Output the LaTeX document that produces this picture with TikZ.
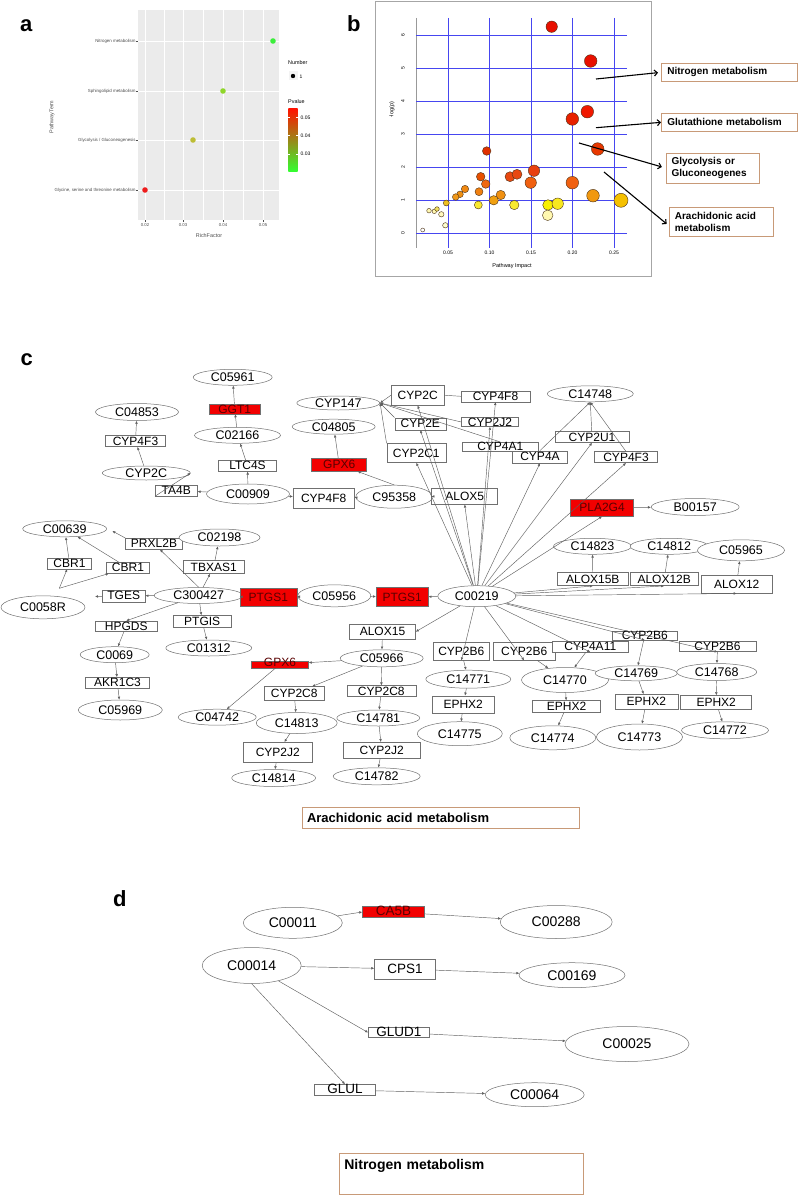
\documentclass[tikz,border=0pt]{standalone}
\usepackage{fontspec}
\setmainfont{Liberation Sans}
\usetikzlibrary{arrows.meta,shapes.geometric,positioning}

\definecolor{edgegray}{HTML}{707070}
\definecolor{genered}{HTML}{F20000}
\definecolor{tanline}{HTML}{C89A78}
\definecolor{gridblue}{HTML}{4646F0}
\definecolor{ggbg}{HTML}{EBEBEB}
\definecolor{ggtext}{HTML}{4D4D4D}

\newcommand{\pxfont}[1]{\fontsize{#1}{#1}\selectfont}

\begin{document}
\begin{tikzpicture}[x=1pt, y=-1pt,
    cpd/.style={ellipse, draw=edgegray, line width=0.5pt, fill=white, inner sep=0pt, font=\pxfont{12.5}},
    gene/.style={rectangle, draw=edgegray, line width=0.5pt, fill=white, inner sep=0pt, font=\pxfont{12}},
    hit/.style={fill=genered, text=red!35!black},
    sz/.style 2 args={minimum width=#1pt, minimum height=#2pt},
    link/.style={draw=edgegray!85!black, line width=0.45pt, -{Latex[length=3pt,width=2.6pt]}},
    tag/.style={draw=tanline, line width=0.7pt, fill=white, anchor=north west, align=left, inner xsep=5pt},
    pointer/.style={draw=black, line width=1.1pt, -{Straight Barb[length=3pt,width=6pt]}},
    panel/.style={font=\bfseries\pxfont{22}, anchor=base west, inner sep=0pt},
    tick/.style={font=\pxfont{4.3}, text=ggtext, inner sep=0.5pt},
  ]
  \useasboundingbox (0,0) rectangle (799,1196);

  % ---- a: enrichment dot plot
  \node (laba) [panel] at (20,32) {a};
  \fill[ggbg] (138.3,10) rectangle (279.3,220);
  \foreach \gx in {164,203.5,243}
    \draw[white, line width=0.3pt] (\gx,10) -- (\gx,220);
  \foreach \gx/\lab [count=\i] in {145/0.02,183/0.03,223/0.04,263/0.05}{
    \draw[white, line width=0.7pt] (\gx,10) -- (\gx,220);
    \draw[ggtext, line width=0.3pt] (\gx,220) -- (\gx,222);
    \node (xa\i) [tick, anchor=north] at (\gx,223) {\lab};
  }
  \foreach \gy/\term [count=\i] in {41/{Nitrogen metabolism},91/{Sphingolipid metabolism},140/{Glycolysis / Gluconeogenesis},190/{Glycine, serine and threonine metabolism}}{
    \draw[white, line width=0.7pt] (138.3,\gy) -- (279.3,\gy);
    \draw[ggtext, line width=0.3pt] (136.3,\gy) -- (138.3,\gy);
    \node (term\i) [tick, font=\pxfont{4.4}, anchor=east] at (136.3,\gy) {\term};
  }
  \foreach \px/\py/\pc in {273/41/3BEE3B,223/91/8FD62A,193/140/BDBD35,145/190/EE1C1C}{
    \definecolor{dotc}{HTML}{\pc}
    \fill[dotc] (\px,\py) circle (2.8);
  }
  \node (richf) [font=\pxfont{5.4}, text=ggtext] at (209,236) {RichFactor};
  \node (pterm) [font=\pxfont{5.4}, text=ggtext, rotate=90] at (52,117) {PathwayTerm};
  \node (numlab) [font=\pxfont{5.4}, anchor=west, inner sep=0pt] at (288,62.7) {Number};
  \fill[ggbg!60] (288.5,71.5) rectangle (297.5,80.5);
  \fill (293,76) circle (2.2);
  \node (numone) [font=\pxfont{5}, anchor=west, inner sep=0pt] at (299.5,76.5) {1};
  \node (pvlab) [font=\pxfont{5.4}, anchor=west, inner sep=0pt] at (288,102) {Pvalue};
  \shade[top color={rgb,255:red,255;green,20;blue,0}, middle color={rgb,255:red,205;green,150;blue,20}, bottom color={rgb,255:red,50;green,255;blue,50}] (288.3,109) rectangle (297.7,171.7);
  \foreach \cy/\cv [count=\i] in {117.3/0.05,135.3/0.04,153.7/0.03}{
    \draw[white, line width=0.3pt] (288.3,\cy) -- (290,\cy) (296,\cy) -- (297.7,\cy);
    \node (pv\i) [font=\pxfont{5}, anchor=west, inner sep=0pt] at (300.5,\cy) {\cv};
  }

  % ---- b: pathway impact bubbles
  \node (labb) [panel] at (347,32) {b};
  \draw[gray!70, line width=0.6pt] (375,1) rectangle (651,276);
  \draw[gray!80, line width=0.4pt] (416,18) -- (416,248);
  \foreach \v in {0,...,6}{
    \draw[gridblue, line width=0.6pt] (416,{233-33*\v}) -- (627,{233-33*\v});
    \node (yb\v) [font=\pxfont{5}, rotate=90, inner sep=0pt] at (403,{233-33*\v}) {\v};
  }
  \foreach \v/\lab [count=\i] in {0.05/0.05,0.10/0.10,0.15/0.15,0.20/0.20,0.25/0.25}{
    \draw[gridblue, line width=0.6pt] ({406.5+830*\v},18) -- ({406.5+830*\v},248);
    \node (xb\i) [font=\pxfont{5}, inner sep=0pt] at ({406.5+830*\v},253) {\lab};
  }
  \node (logp) [font=\pxfont{5.5}, rotate=90] at (392,110) {-log(p)};
  \node (impact) [font=\pxfont{5.5}] at (512,266) {Pathway Impact};
  \foreach \bx/\by/\br/\bc in {
      551.7/26.7/5.7/E81000, 590.7/61/6.3/E81000, 587.3/111.7/6.3/F01800,
      572.3/119/6.3/E82000, 597.7/149/6.3/E83800, 486.7/151/4.3/E03000,
      480.7/176.7/4.3/E85000, 485.7/184/4.3/F06810, 510/176.7/5/E84810,
      517/174.3/5/E84810, 534/170.7/5.7/E84010, 530.7/182.7/5.7/F06010,
      572.3/182.7/6.3/F06010, 465/189/3.7/F08810, 460/194.3/3.3/F09010,
      455.7/197/3.3/F09818, 479/191.7/4/F08010, 500.7/195/4.7/F09010,
      493.7/200.3/4.7/F0A010, 446.3/203/3/F0C020, 593/195.7/6.3/F09810,
      621/200.3/7/F5C000, 478.3/205/4/F8E830, 514.3/205/4.7/F8E830,
      548/205/5.3/F8F000, 557.7/203.7/5.7/F8E820, 547.7/215.3/5.3/FFF8B0,
      429/210.7/2.3/FFF8B0, 434.3/211.3/2.3/FFF8B0, 437/209/2.3/F0E060,
      441.3/214.3/2.7/FFF8C0, 445.3/225.3/2.7/FFFFD0, 422.7/230/2/FFFFFF}{
    \definecolor{bub}{HTML}{\bc}
    \filldraw[fill=bub, draw=black!60!brown, line width=0.4pt] (\bx,\by) circle (\br);
  }
  \node (nbox) [tag, sz={136}{18}, text width=124pt, font=\bfseries\pxfont{10}] at (661,63) {Nitrogen metabolism};
  \node (gbox) [tag, sz={136}{18}, text width=124pt, font=\bfseries\pxfont{10}] at (661,113) {Glutathione metabolism};
  \node (ybox) [tag, sz={93}{30}, text width=82pt, font=\bfseries\fontsize{10}{12.3}\selectfont] at (665.7,152.7) {Glycolysis or\\Gluconeogenes};
  \node (abox) [tag, sz={104}{29}, text width=93pt, font=\bfseries\fontsize{10}{12.3}\selectfont] at (669,207) {Arachidonic acid\\metabolism};
  \coordinate (nfrom) at (596,79);
  \coordinate (gfrom) at (596,127.7);
  \coordinate (yfrom) at (579,143);
  \coordinate (afrom) at (604,172);
  \draw[pointer, shorten >=3pt] (nfrom) -- (nbox.west);
  \draw[pointer] (gfrom) -- (gbox.west);
  \draw[pointer, shorten >=4pt] (yfrom) -- (ybox.west);
  \draw[pointer, shorten >=3pt] (afrom) -- ([yshift=-4pt]abox.west);

  % ---- c: arachidonic acid metabolism network
  \node (labc) [panel] at (20.5,365.5) {c};
  \node (c05961) [cpd, sz={79}{16}] at (232.7,377.3) {C05961};
  \node (ggt1) [gene, hit, sz={51}{10}] at (234.7,409) {GGT1};
  \node (c04853) [cpd, sz={83}{17}] at (137,412) {C04853};
  \node (c02166) [cpd, sz={86}{16}] at (237.5,435.3) {C02166};
  \node (cyp4f3a) [gene, sz={60}{11}] at (135.5,441.2) {CYP4F3};
  \node (ltc4s) [gene, sz={58}{11}] at (247.5,465.8) {LTC4S};
  \node (cyp2ca) [cpd, sz={88}{14}] at (146.3,473) {CYP2C};
  \node (ta4b) [gene, sz={42}{11}] at (176.3,490.5) {TA4B};
  \node (c00909) [cpd, sz={83}{20}] at (248,494) {C00909};
  \node (cyp147) [cpd, sz={83}{14}] at (338.3,403) {CYP147};
  \node (c04805) [cpd, sz={83}{15}] at (333.7,426.7) {C04805};
  \node (gpx6a) [gene, hit, sz={55}{13}] at (339.2,464.7) {GPX6};
  \node (cyp4f8b) [gene, sz={61}{20}] at (323.7,498.3) {CYP4F8};
  \node (c95358) [cpd, sz={77}{23}] at (394.3,496.7) {C95358};
  \node (alox5) [gene, sz={66}{16}] at (464.7,496.2) {ALOX5};
  \node (cyp2cb) [gene, sz={53}{20}] at (417.7,395.2) {CYP2C};
  \node (cyp4f8a) [gene, sz={69}{11}] at (495.5,396.3) {CYP4F8};
  \node (cyp2e) [gene, sz={51}{12}] at (420.3,423.8) {CYP2E};
  \node (cyp2j2a) [gene, sz={57}{9}] at (490,422) {CYP2J2};
  \node (cyp4a1) [gene, sz={76}{9}] at (500.3,446.7) {CYP4A1};
  \node (cyp2c1) [gene, sz={59}{19}] at (416.3,453) {CYP2C1};
  \node (cyp4a) [gene, sz={55}{12}] at (540,456.8) {CYP4A};
  \node (c14748) [cpd, sz={86}{16}] at (590.3,393.8) {C14748};
  \node (cyp2u1) [gene, sz={74}{11}] at (592,437) {CYP2U1};
  \node (cyp4f3b) [gene, sz={63}{11}] at (626,457.2) {CYP4F3};
  \node (pla2g4) [gene, hit, sz={63}{17}] at (602,507.7) {PLA2G4};
  \node (b00157) [cpd, sz={88}{17}] at (695.2,507) {B00157};
  \node (c14823) [cpd, sz={78}{16}] at (592.5,546.3) {C14823};
  \node (c14812) [cpd, sz={78}{16}] at (669.2,546.3) {C14812};
  \node (c05965) [cpd, sz={87}{21}] at (741,550.3) {C05965};
  \node (alox15b) [gene, sz={71}{13}] at (592.8,579.2) {ALOX15B};
  \node (alox12b) [gene, sz={68}{13}] at (664.2,579.2) {ALOX12B};
  \node (alox12) [gene, sz={71}{18}] at (736.7,584.2) {ALOX12};
  \node (c00639) [cpd, sz={84}{16}] at (64.7,528.8) {C00639};
  \node (prxl2b) [gene, sz={57}{11}] at (154,543.7) {PRXL2B};
  \node (c02198) [cpd, sz={81}{17}] at (219.5,537.5) {C02198};
  \node (cbr1a) [gene, sz={44}{11}] at (69.5,563.3) {CBR1};
  \node (cbr1b) [gene, sz={43}{11}] at (128,567.8) {CBR1};
  \node (tbxas1) [gene, sz={61}{13}] at (213.7,567) {TBXAS1};
  \node (c0058r) [cpd, sz={84}{23}] at (43,607.3) {C0058R};
  \node (tges) [gene, sz={43}{12}] at (123.7,595.8) {TGES};
  \node (c300427) [cpd, sz={89}{16}] at (198.7,595.5) {C300427};
  \node (ptgs1a) [gene, hit, sz={57}{18}] at (268.3,597.5) {PTGS1};
  \node (c05956) [cpd, sz={73}{22}] at (334.3,595.8) {C05956};
  \node (ptgs1b) [gene, hit, sz={52}{19}] at (402.2,597) {PTGS1};
  \node (c00219) [cpd, sz={78}{21}] at (476.8,596.2) {C00219};
  \node (hpgds) [gene, sz={62}{10}] at (126.2,626) {HPGDS};
  \node (ptgis) [gene, sz={58}{12}] at (202.2,621.5) {PTGIS};
  \node (c0069) [cpd, sz={69}{16}] at (114.7,654.7) {C0069};
  \node (c01312) [cpd, sz={86}{16}] at (208.8,648) {C01312};
  \node (akr1c3) [gene, sz={64}{11}] at (117.5,682.8) {AKR1C3};
  \node (c05969) [cpd, sz={84}{20}] at (120.3,710) {C05969};
  \node (alox15) [gene, sz={66}{15}] at (382.5,631.7) {ALOX15};
  \node (c05966) [cpd, sz={83}{17}] at (381.7,658.3) {C05966};
  \node (gpx6b) [gene, hit, sz={57}{7}, text height=5pt, text depth=1pt] at (280,664.3) {GPX6};
  \node (cyp2c8a) [gene, sz={60}{14}] at (294.2,693.7) {CYP2C8};
  \node (cyp2c8b) [gene, sz={69}{11}] at (381.3,691.2) {CYP2C8};
  \node (c04742) [cpd, sz={78}{16}] at (217.2,717.2) {C04742};
  \node (c14813) [cpd, sz={81}{21}] at (296.7,723) {C14813};
  \node (c14781) [cpd, sz={83}{16}] at (378.3,718) {C14781};
  \node (cyp2j2b) [gene, sz={69}{20}] at (277.8,752.3) {CYP2J2};
  \node (cyp2j2c) [gene, sz={77}{16}] at (381.7,750.3) {CYP2J2};
  \node (c14814) [cpd, sz={84}{17}] at (273.7,778) {C14814};
  \node (c14782) [cpd, sz={87}{17}] at (376.7,776.3) {C14782};
  \node (cyp2b6a) [gene, sz={56}{18}] at (461.3,651.2) {CYP2B6};
  \node (cyp2b6b) [gene, sz={62}{18}] at (524.2,651.2) {CYP2B6};
  \node (cyp4a11) [gene, sz={76}{11}] at (590.3,646.3) {CYP4A11};
  \node (cyp2b6c) [gene, sz={65}{9}] at (644.8,635.3) {CYP2B6};
  \node (cyp2b6d) [gene, sz={77}{10}] at (717.5,646.7) {CYP2B6};
  \node (c14771) [cpd, sz={85}{18}] at (468.3,679.2) {C14771};
  \node (c14770) [cpd, sz={87}{25}] at (565,680) {C14770};
  \node (c14769) [cpd, sz={82}{15}] at (636.2,673.3) {C14769};
  \node (c14768) [cpd, sz={80}{17}] at (716.7,672) {C14768};
  \node (ephx2a) [gene, sz={62}{17}] at (463.2,704.3) {EPHX2};
  \node (ephx2b) [gene, sz={68}{12}] at (566.5,706.7) {EPHX2};
  \node (ephx2c) [gene, sz={63}{15}] at (646.3,701.8) {EPHX2};
  \node (ephx2d) [gene, sz={71}{14}] at (716.2,702.5) {EPHX2};
  \node (c14775) [cpd, sz={85}{24}] at (459.8,733.7) {C14775};
  \node (c14774) [cpd, sz={86}{24}] at (552.8,737.8) {C14774};
  \node (c14773) [cpd, sz={86}{26}] at (639.5,737) {C14773};
  \node (c14772) [cpd, sz={87}{17}] at (725,730.3) {C14772};
  \coordinate (tgesout) at (95,596.5);
  \coordinate (prxlout) at (112.3,531);
  \coordinate (cbrfork) at (59.3,588.3);

  % upper left branch
  \draw [link] (c02166) -- (ggt1);
  \draw [link] (ggt1) -- (c05961);
  \draw [link] (ltc4s) -- (c02166);
  \draw [link] (c00909) -- (ltc4s);
  \draw [link] (c00909) -- (ta4b);
  \draw [link] (ta4b.south west) -- (cyp2ca.east);
  \draw [link] (cyp2ca) -- (cyp4f3a);
  \draw [link] (cyp4f3a) -- (c04853);
  \draw [link] (c00909) -- (cyp4f8b);
  \draw [link] (c95358) -- (cyp4f8b);
  \draw [link] (c95358.north) -- (gpx6a);
  \draw [link] (gpx6a) -- (c04805);
  \draw [link] (c95358) -- (alox5);
  % CYP cluster into CYP147
  \draw [link] (cyp2cb.west) -- (cyp147.east);
  \draw [link] (cyp2e.north west) -- (cyp147.east);
  \draw [link] (cyp2c1.north west) -- (cyp147.east);
  \draw [link] (cyp2j2a.west) -- (cyp147.east);
  \draw [link] (cyp4a1.north) -- (cyp147.east);
  \draw [draw=edgegray!85!black, line width=0.45pt] (cyp4f8a.west) -- (cyp2cb.east);
  % fan out of C00219
  \foreach \tgt in {alox5,cyp2c1,cyp2e,cyp2cb,cyp4f8a,cyp2j2a,cyp4a,cyp2u1,cyp4f3b,pla2g4,alox15b,alox12b,alox12,cyp2b6a,cyp2b6b,cyp4a11,cyp2b6c,cyp2b6d}
    \draw [link] (c00219) -- (\tgt.south);
  \draw [link] (c00219) -- (ptgs1b);
  \draw [link] (c00219) -- (alox15.east);
  \draw [link] (cyp4a.north) -- (c14748.south);
  \draw [link] (cyp2u1) -- (c14748.south);
  \draw [link] (cyp4f3b.north) -- (c14748.south);
  \draw [link] (pla2g4) -- (b00157);
  \draw [link] (alox15b) -- (c14823);
  \draw [link] (alox12b) -- (c14812);
  \draw [link] (alox12) -- (c05965);
  % prostaglandin side
  \draw [link] (c05956) -- (ptgs1b);
  \draw [link] (c05956) -- (ptgs1a);
  \draw [link] (c300427) -- (ptgs1a);
  \draw [link] (c300427) -- (tges);
  \draw [link] (tges) -- (tgesout);
  \draw [link] (c300427) -- (tbxas1);
  \draw [link] (tbxas1) -- (c02198);
  \draw [link] (c300427.north) -- (prxl2b);
  \draw [link] (prxl2b.north west) -- (prxlout);
  \draw [link] (cbrfork) -- (cbr1b);
  \draw [link] (cbrfork) -- (cbr1a);
  \draw [link] (cbr1a) -- (c00639);
  \draw [link] (cbr1b) -- (c00639);
  \draw [link] (c300427) -- (hpgds.north);
  \draw [link] (c300427) -- (ptgis);
  \draw [link] (ptgis) -- (c01312);
  \draw [link] (hpgds) -- (c0069);
  \draw [link] (c0069) -- (akr1c3);
  \draw [link] (akr1c3) -- (c05969);
  % ALOX15 side
  \draw [link] (alox15) -- (c05966);
  \draw [link] (c05966) -- (gpx6b);
  \draw [link] (c05966) -- (cyp2c8a);
  \draw [link] (c05966) -- (cyp2c8b);
  \draw [link] (gpx6b) -- (c04742);
  \draw [link] (cyp2c8a) -- (c14813);
  \draw [link] (c14813) -- (cyp2j2b);
  \draw [link] (cyp2j2b) -- (c14814);
  \draw [link] (cyp2c8b) -- (c14781);
  \draw [link] (c14781) -- (cyp2j2c);
  \draw [link] (cyp2j2c) -- (c14782);
  % CYP2B6 side
  \draw [link] (cyp2b6a) -- (c14771);
  \draw [link] (c14771) -- (ephx2a);
  \draw [link] (ephx2a) -- (c14775);
  \draw [link] (cyp2b6b) -- (c14770);
  \draw [link] (cyp4a11) -- (c14770);
  \draw [link] (c14770) -- (ephx2b);
  \draw [link] (ephx2b) -- (c14774);
  \draw [link] (cyp2b6c) -- (c14769);
  \draw [link] (c14769) -- (ephx2c);
  \draw [link] (ephx2c) -- (c14773);
  \draw [link] (cyp2b6d) -- (c14768);
  \draw [link] (c14768) -- (ephx2d);
  \draw [link] (ephx2d) -- (c14772);

  \node (arabox) [tag, sz={277.6}{21.6}, text width=267.6pt, font=\bfseries\pxfont{13}] at (301.7,806.7) {Arachidonic acid metabolism};

  % ---- d: nitrogen metabolism network
  \node (labd) [panel] at (113,906) {d};
  \node (c00011) [cpd, sz={99}{31}, font=\pxfont{14}] at (292.8,922.8) {C00011};
  \node (ca5b) [gene, hit, sz={62}{11}, font=\pxfont{13.5}, text height=8pt, text depth=1pt] at (393.5,912) {CA5B};
  \node (c00288) [cpd, sz={112}{33}, font=\pxfont{14}] at (556.2,922) {C00288};
  \node (c00014) [cpd, sz={99}{36}, font=\pxfont{14}] at (251.7,965.5) {C00014};
  \node (cps1) [gene, sz={61}{20}, font=\pxfont{13.5}] at (405,969) {CPS1};
  \node (c00169) [cpd, sz={106}{25}, font=\pxfont{14}] at (572,975.2) {C00169};
  \node (glud1) [gene, sz={61}{10}, font=\pxfont{13.5}, text height=8pt, text depth=1pt] at (398.8,1032.5) {GLUD1};
  \node (c00025) [cpd, sz={124}{35}, font=\pxfont{14}] at (627,1044) {C00025};
  \node (glul) [gene, sz={61}{11}, font=\pxfont{13.5}, text height=8pt, text depth=1pt] at (345,1090) {GLUL};
  \node (c00064) [cpd, sz={99}{24}, font=\pxfont{14}] at (534.7,1094.7) {C00064};
  \draw [link] (c00011) -- (ca5b.west);
  \draw [link] (ca5b) -- (c00288);
  \draw [link] (c00014) -- (cps1);
  \draw [link] (cps1) -- (c00169);
  \draw [link] (c00014) -- (glud1.west);
  \draw [link] (glud1) -- (c00025);
  \draw [link] (c00014.south) -- (glul.north);
  \draw [link] (glul) -- (c00064);

  \node (nitbox) [tag, sz={244}{1}, text width=234pt, inner ysep=5pt, text height=11pt, text depth=19.7pt, font=\bfseries\pxfont{14}] at (339,1153.3) {Nitrogen metabolism};
\end{tikzpicture}
\end{document}
